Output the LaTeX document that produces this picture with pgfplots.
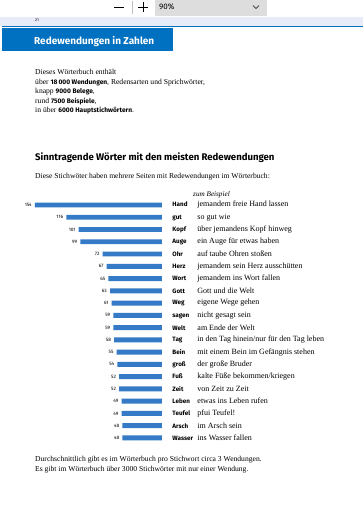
\documentclass[border=0pt]{standalone}
\usepackage{fontspec}
\setmainfont{Liberation Serif}
\setsansfont{Fira Sans}
\usepackage{pgfplots}
\pgfplotsset{compat=1.18}
\definecolor{banner}{RGB}{0,112,192}
\definecolor{barblue}{RGB}{52,122,198}
\definecolor{toolgray}{RGB}{221,221,221}
\definecolor{band}{RGB}{232,236,248}
\newcommand{\kw}[2]{\makebox[25pt][l]{\fontsize{6.3}{7}\sffamily\bfseries #1}#2}
\newcommand{\bs}[1]{{\sffamily\bfseries\fontsize{6.6}{8}\selectfont #1}}
\begin{document}
\begin{tikzpicture}
\fill[white] (0,0) rectangle (363pt,-512pt);
\useasboundingbox (0,0) rectangle (363pt,-512pt);
% toolbar
\fill[toolgray] (155pt,0) rectangle (267pt,-16pt);
\node[anchor=west,inner sep=0pt,font=\sffamily\fontsize{8}{9}\selectfont] at (159pt,-6.5pt) {90\%};
\draw[line width=0.6pt] (253pt,-5.5pt) -- (256pt,-8.5pt) -- (259pt,-5.5pt);
\draw[line width=0.7pt] (114pt,-7pt) -- (124pt,-7pt);
\draw[line width=0.7pt] (138pt,-7pt) -- (148pt,-7pt);
\draw[line width=0.7pt] (143pt,-2pt) -- (143pt,-12pt);
\draw[black!25] (132pt,-1pt) -- (132pt,-14pt);
% page header band
\fill[band] (0,-17pt) rectangle (363pt,-26pt);
\node[anchor=west,inner sep=0pt,font=\sffamily\fontsize{4}{5}\selectfont] at (35pt,-20.5pt) {21};
\fill[banner] (2pt,-26pt) rectangle (363pt,-27.2pt);
\fill[banner] (2pt,-28pt) rectangle (173pt,-51pt);
\node[anchor=west,inner sep=0pt,text=white,font=\sffamily\bfseries\fontsize{10}{11}\selectfont] at (34pt,-42pt) {Redewendungen in Zahlen};
% intro text
\begin{scope}[every node/.style={anchor=base west,inner sep=0pt,font=\fontsize{7.6}{8}\selectfont}]
\node at (35pt,-74pt) {Dieses Wörterbuch enthält};
\node at (35pt,-84pt) {über \bs{18\,000 Wendungen}, Redensarten und Sprichwörter,};
\node at (35pt,-93.5pt) {knapp \bs{9000 Belege},};
\node at (35pt,-103pt) {rund \bs{7500 Beispiele},};
\node at (35pt,-112.5pt) {in über \bs{6000 Hauptstichwörtern}.};
\node at (35pt,-178.5pt) {Diese Stichwöter haben mehrere Seiten mit Redewendungen im Wörterbuch:};
\node at (35pt,-461pt) {Durchschnittlich gibt es im Wörterbuch pro Stichwort circa 3 Wendungen.};
\node at (35pt,-471pt) {Es gibt im Wörterbuch über 3000 Stichwörter mit nur einer Wendung.};
\node[font=\fontsize{7.2}{8}\selectfont\itshape] at (193pt,-196.5pt) {zum Beispiel};
\end{scope}
\node[anchor=base west,inner sep=0pt,font=\sffamily\bfseries\fontsize{9.6}{11}\selectfont] at (35pt,-160pt) {Sinntragende Wörter mit den meisten Redewendungen};
% chart
\begin{axis}[
  at={(162pt,-198.87pt)}, anchor=north east,
  scale only axis, width=127pt, height=245.2pt,
  xbar, bar width=4.9pt,
  x dir=reverse, y dir=reverse,
  xmin=0, xmax=154, ymin=-0.5, ymax=19.5,
  axis line style={draw=none}, tick style={draw=none},
  xtick=\empty,
  ytick={0,...,19},
  yticklabel pos=right,
  yticklabel style={anchor=west, inner sep=0pt, xshift=6pt, font=\fontsize{8}{8}\selectfont},
  yticklabels={
    {\kw{Hand}{jemandem freie Hand lassen}},
    {\kw{gut}{so gut wie}},
    {\kw{Kopf}{über jemandens Kopf hinweg}},
    {\kw{Auge}{ein Auge für etwas haben}},
    {\kw{Ohr}{auf taube Ohren stoßen}},
    {\kw{Herz}{jemandem sein Herz ausschütten}},
    {\kw{Wort}{jemandem ins Wort fallen}},
    {\kw{Gott}{Gott und die Welt}},
    {\kw{Weg}{eigene Wege gehen}},
    {\kw{sagen}{nicht gesagt sein}},
    {\kw{Welt}{am Ende der Welt}},
    {\kw{Tag}{in den Tag hinein/nur für den Tag leben}},
    {\kw{Bein}{mit einem Bein im Gefängnis stehen}},
    {\kw{groß}{der große Bruder}},
    {\kw{Fuß}{kalte Füße bekommen/kriegen}},
    {\kw{Zeit}{von Zeit zu Zeit}},
    {\kw{Leben}{etwas ins Leben rufen}},
    {\kw{Teufel}{pfui Teufel!}},
    {\kw{Arsch}{im Arsch sein}},
    {\kw{Wasser}{ins Wasser fallen}}},
  nodes near coords,
  /pgf/number format/assume math mode=true,
  every node near coord/.append style={anchor=east, inner sep=0pt, xshift=-3pt, font=\sffamily\fontsize{4.8}{5}\selectfont},
  clip=false,
]
\addplot[fill=barblue, draw=none] coordinates {
(154,0) (116,1) (101,2) (99,3) (72,4) (67,5) (65,6) (63,7) (61,8) (59,9)
(59,10) (58,11) (55,12) (54,13) (52,14) (52,15) (49,16) (49,17) (48,18) (48,19)};
\end{axis}
\end{tikzpicture}
\end{document}
